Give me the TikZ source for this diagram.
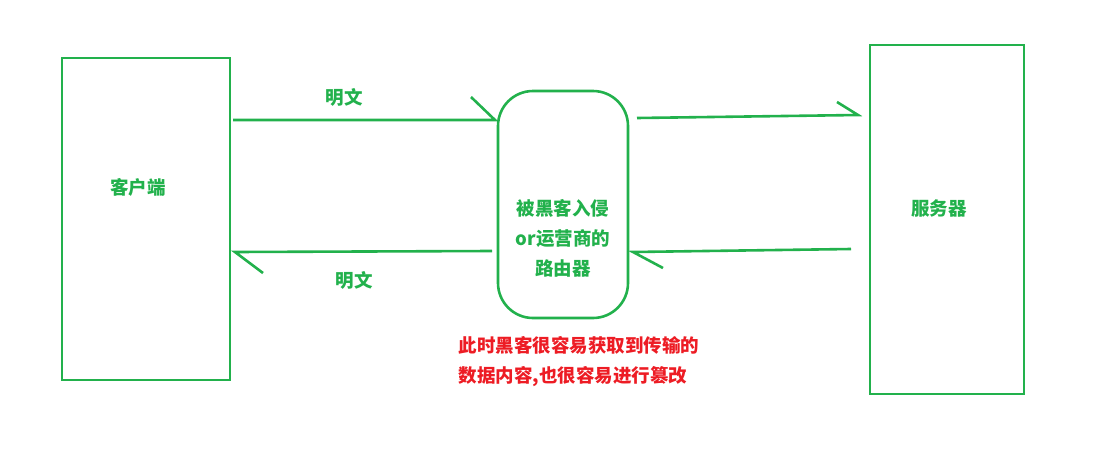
\documentclass[tikz,border=0pt]{standalone}
\usepackage{fontspec}
\newfontfamily\cjk{Noto Sans CJK SC}
\definecolor{pgreen}{HTML}{22B14C}
\definecolor{pred}{HTML}{ED1C24}
\tikzset{
  box/.style={draw=pgreen, line width=2.6pt, inner sep=0pt},
  conn/.style={draw=pgreen, line width=2.6pt},
  gtext/.style={text=pgreen, font=\cjk\bfseries\fontsize{18.5}{30}\selectfont, align=center},
  rtext/.style={text=pred, font=\cjk\bfseries\fontsize{18.5}{30}\selectfont, align=left, anchor=west},
}
\begin{document}
\begin{tikzpicture}[x=1pt,y=-1pt]
\useasboundingbox (0,0) rectangle (1120,469);
% boxes
\node[box, minimum width=168pt, minimum height=322pt] (client) at (146,219) {};
\node[box, rounded corners=35pt, minimum width=130pt, minimum height=227pt] (router) at (563,204.5) {};
\node[box, minimum width=154pt, minimum height=349pt] (server) at (947,219.5) {};
% texts
\node[gtext] (tc) at (138,187) {客户端};
\node[gtext] (tr) at (563,238) {被黑客入侵\\or运营商的\\路由器};
\node[gtext] (ts) at (939,208) {服务器};
\node[gtext] (l1) at (344,97) {明文};
\node[gtext] (l2) at (354,280) {明文};
\node[rtext] (red) at (455,362) {此时黑客很容易获取到传输的\\数据内容,也很容易进行篡改};
% connector endpoints
\coordinate (a1s) at (233,120);
\coordinate (a1e) at (495,120);
\coordinate (a1b) at (471,97);
\coordinate (a2s) at (492,251);
\coordinate (a2e) at (235,252);
\coordinate (a2b) at (263,273);
\coordinate (a3s) at (637,118);
\coordinate (a3e) at (858,115);
\coordinate (a3b) at (837,102);
\coordinate (a4s) at (851,249);
\coordinate (a4e) at (633,252);
\coordinate (a4b) at (663,268);
% connectors
\draw[conn] (a1s) -- (a1e) -- (a1b);
\draw[conn] (a2s) -- (a2e) -- (a2b);
\draw[conn] (a3s) -- (a3e) -- (a3b);
\draw[conn] (a4s) -- (a4e) -- (a4b);
\end{tikzpicture}
\end{document}
